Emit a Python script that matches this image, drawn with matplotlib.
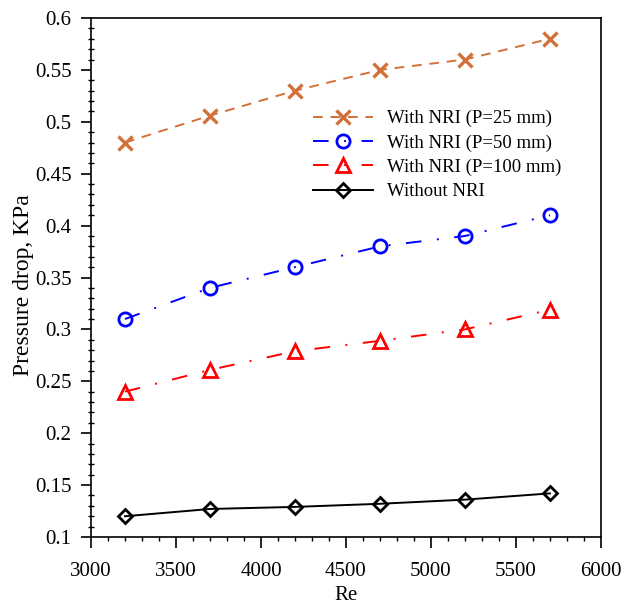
import matplotlib.pyplot as plt
from matplotlib.ticker import MultipleLocator

re = [3200, 3700, 4200, 4700, 5200, 5700]
p25 = [0.48, 0.506, 0.53, 0.55, 0.56, 0.58]
p50 = [0.31, 0.34, 0.36, 0.38, 0.39, 0.41]
p100 = [0.24, 0.261, 0.279, 0.289, 0.30, 0.319]
no_nri = [0.12, 0.127, 0.129, 0.132, 0.136, 0.142]

plt.rcParams['font.family'] = ['Liberation Serif', 'DejaVu Serif']

fig = plt.figure(figsize=(6.3, 6.04), dpi=100)
ax = fig.add_axes([91 / 630, 1 - 537 / 604, 510 / 630, 519 / 604])

ax.plot(re, p25, color='#D2703A', linestyle=(0, (5, 4)), linewidth=1.4,
        marker='x', markersize=10.5, markeredgewidth=2.4, label='With NRI (P=25 mm)')
ax.plot(re, p50, color='#0000FF', linestyle=(0, (8, 8, 1, 8)), linewidth=1.4,
        marker='o', markersize=9.5, markerfacecolor='none', markeredgewidth=2.0,
        label='With NRI (P=50 mm)')
ax.plot(re, p100, color='#FF0000', linestyle=(0, (8, 8, 1, 8)), linewidth=1.4,
        marker='^', markersize=9.5, markerfacecolor='none', markeredgewidth=2.0,
        label='With NRI (P=100 mm)')
ax.plot(re, no_nri, color='black', linestyle='-', linewidth=1.4,
        marker='D', markersize=7.5, markerfacecolor='none', markeredgewidth=2.0,
        label='Without NRI')

ax.set_xlim(3000, 6000)
ax.set_ylim(0.1, 0.6)
ax.xaxis.set_major_locator(MultipleLocator(500))
ax.xaxis.set_minor_locator(MultipleLocator(100))
ax.yaxis.set_minor_locator(MultipleLocator(0.01))
ax.set_yticks([0.1, 0.15, 0.2, 0.25, 0.3, 0.35, 0.4, 0.45, 0.5, 0.55, 0.6])
ax.set_yticklabels(['0.1', '0.15', '0.2', '0.25', '0.3', '0.35', '0.4', '0.45', '0.5', '0.55', '0.6'])
ax.tick_params(axis='x', which='major', direction='out', length=8, width=1.2, labelsize=15, pad=10)
ax.tick_params(axis='x', which='minor', direction='out', length=3, width=1.0)
ax.tick_params(axis='y', which='major', direction='out', length=7, width=1.2, labelsize=15, pad=7)
ax.tick_params(axis='y', which='minor', direction='inout', length=5, width=1.0)
for s in ax.spines.values():
    s.set_linewidth(1.2)

ax.set_xlabel('Re', fontsize=15, labelpad=3.5)
ax.set_ylabel('Pressure drop, KPa', fontsize=17, labelpad=0.5, y=0.485)

ax.legend(loc='upper left', bbox_to_anchor=(0.435, 0.823), borderaxespad=0, borderpad=0,
          frameon=False, numpoints=1, handlelength=3.2, handletextpad=0.75,
          fontsize=13.5, labelspacing=0.38)

fig.savefig('out.png', dpi=100)
